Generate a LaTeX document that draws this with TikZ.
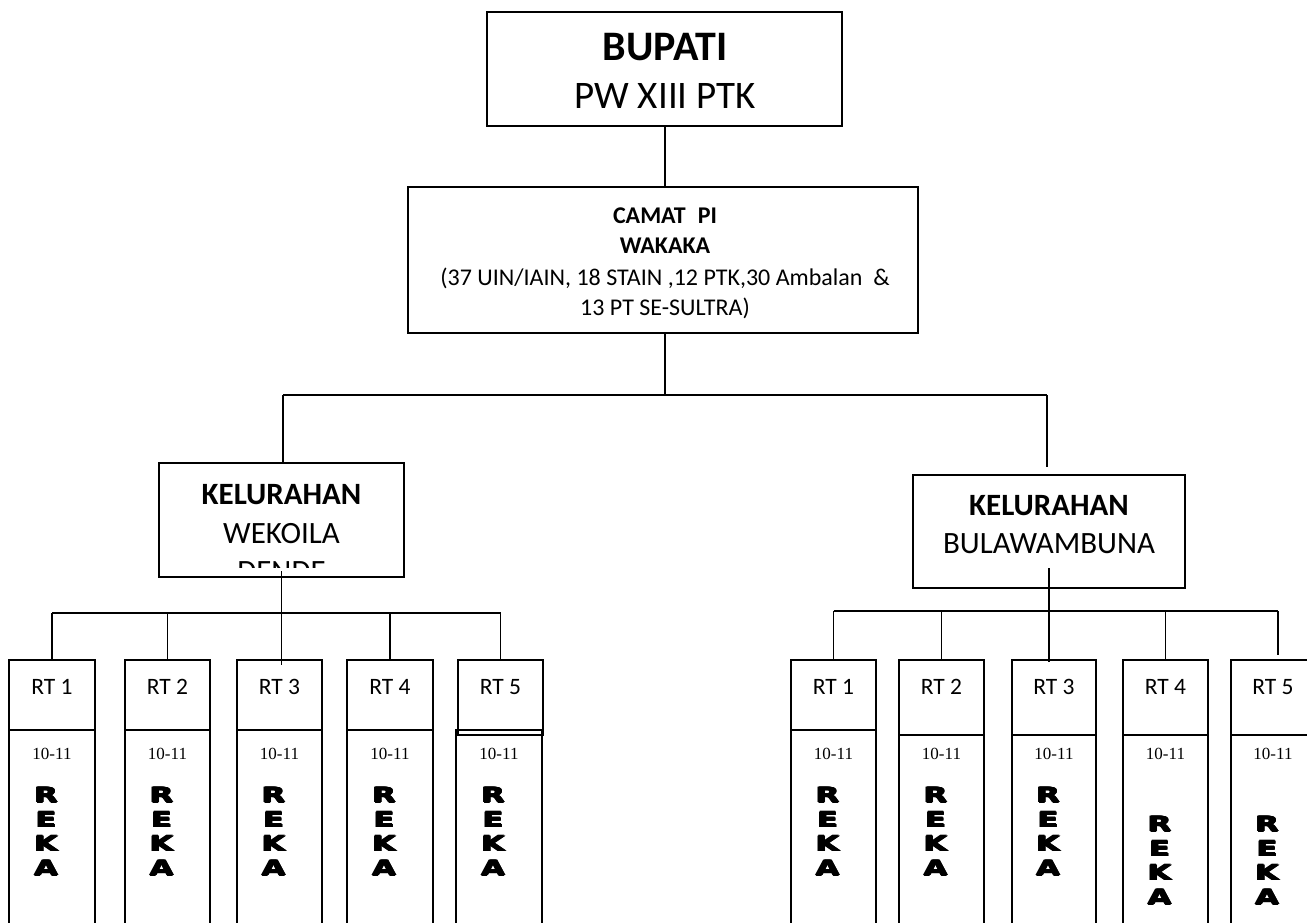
\documentclass[tikz,border=0pt]{standalone}
\usepackage{fontspec}
\setmainfont{Carlito}
\newfontfamily\timesf{Liberation Serif}
\newfontfamily\rekaf[FakeStretch=1.45]{DejaVu Sans Bold}
\newcommand\heavyltr[1]{\rlap{#1}\rlap{\kern0.8pt#1}\rlap{\kern1.6pt#1}\rlap{\raisebox{0.7pt}{\kern0.8pt#1}}\rlap{\raisebox{-0.5pt}{\kern0.8pt#1}}\kern1.6pt#1}
\usetikzlibrary{calc}
\begin{document}
\begin{tikzpicture}[x=1pt,y=-1pt,line width=1.4pt,
  every node/.style={inner sep=0pt,outer sep=0pt},
  box/.style={draw,line width=1.5pt,rectangle},
  bigb/.style={font=\fontsize{42}{42}\selectfont\bfseries,anchor=base},
  bigr/.style={font=\fontsize{39}{39}\selectfont,anchor=base},
  midb/.style={font=\fontsize{24}{24}\selectfont\bfseries,anchor=base},
  midr/.style={font=\fontsize{24}{24}\selectfont,anchor=base},
  kelb/.style={font=\fontsize{31}{31}\selectfont\bfseries,anchor=base},
  kelr/.style={font=\fontsize{31}{31}\selectfont,anchor=base},
  rtlab/.style={font=\fontsize{23.5}{23.5}\selectfont,anchor=base},
  rtnum/.style={font=\timesf\fontsize{17}{17}\selectfont,anchor=base},
  reka/.style={font=\rekaf\fontsize{21}{24.3}\selectfont,align=center}]
\useasboundingbox (0,0) rectangle (1307,923);
\clip (0,0) rectangle (1307,923);

% top boxes
\node[box,minimum width=355,minimum height=114] (bupati) at (664.5,69) {};
\node[bigb] (bupatiA) at (665,61) {BUPATI};
\node[bigr] (bupatiB) at (665,109) {PW XIII PTK};

\node[box,minimum width=510,minimum height=146] (camat) at (663,260) {};
\node[midb] (camatA) at (665,223) {CAMAT\hspace{12pt}PI};
\node[midb] (camatB) at (665,253) {WAKAKA};
\node[midr] (camatC) at (665,285) {(37 UIN/IAIN, 18 STAIN ,12 PTK,30 Ambalan\ \ \&};
\node[midr] (camatD) at (665,315) {13 PT SE-SULTRA)};

\node[box,minimum width=245,minimum height=114] (kelL) at (281.5,520) {};
\node[kelb] (kelLA) at (281.5,504) {KELURAHAN};
\node[kelr] (kelLB) at (281.5,543) {WEKOILA};
\begin{scope}
\clip (159,550) rectangle (404,567);
\node[kelr] (kelLC) at (281.5,581) {DENDE};
\end{scope}

\node[box,minimum width=272,minimum height=113] (kelR) at (1049,531.5) {};
\node[kelb] (kelRA) at (1049,515) {KELURAHAN};
\node[kelr] (kelRB) at (1049,553) {BULAWAMBUNA};

% RT columns
\foreach \n/\l/\r/\d/\ll/\lr/\lt/\k/\ry in {
  L1/9/95/730/9/95/730/1/831.5,
  L2/125/210/730/125/210/730/2/831.5,
  L3/237/322/730/237/322/730/3/831.5,
  L4/347/433/730/347/433/730/4/831.5,
  L5/458/543/735/456/542/730/5/831.5,
  R1/791/876/730/791/876/730/1/831.5,
  R2/899/984/735/899/984/735/2/831.5,
  R3/1012/1096/735/1012/1096/735/3/831.5,
  R4/1123/1208/735/1123/1208/735/4/860.5,
  R5/1231/1315/735/1231/1315/735/5/860.5}{
  \node[box,minimum width={\r-\l},minimum height={\d-660}] (\n-t) at ({(\l+\r)/2},{(660+\d)/2}) {};
  \node[box,minimum width={\lr-\ll},minimum height={960-\lt}] (\n-b) at ({(\ll+\lr)/2},{(960+\lt)/2}) {};
  \node[rtlab] (\n-lab) at ({(\l+\r)/2},694) {RT \k};
  \node[rtnum] (\n-num) at ({(\ll+\lr)/2},759) {10-11};
  \node[reka] (\n-reka) at ({(\ll+\lr)/2-6},\ry) {\heavyltr{R}\\\heavyltr{E}\\\heavyltr{K}\\\heavyltr{A}};
}

% connectors
\coordinate (jC) at (665,395);
\coordinate (jL) at (283,395);
\coordinate (jR) at (1047,395);
\coordinate (jRe) at (1047,467);
\coordinate (busL) at (0,613);
\coordinate (busR) at (0,611);
\coordinate (bR5) at (1278,611);
\coordinate (bR5e) at (1278,655);

\draw (bupati.south -| camatA.south) -- (camat.north -| camatA.south);
\draw (camat.south -| camatA.south) -- (jC);
\draw (jL) -- (jR);
\draw (jL) -- (jL |- kelL.north);
\draw (jR) -- (jRe);

\draw ($(kelL.south)+(0,-6)$) -- ($(kelL.south |- L3-t.north)+(0,5)$);
\draw (L1-t.north |- busL) -- (L5-t.north |- busL);
\foreach \i in {1,2,4,5} \draw (L\i-t.north |- busL) -- (L\i-t.north);

\draw ($(kelR.south)+(0,-20)$) -- ($(kelR.south |- R3-t.north)+(0,2)$);
\draw (R1-t.north |- busR) -- (bR5);
\foreach \i in {1,2,4} \draw (R\i-t.north |- busR) -- (R\i-t.north);
\draw (bR5) -- (bR5e);
\end{tikzpicture}
\end{document}
